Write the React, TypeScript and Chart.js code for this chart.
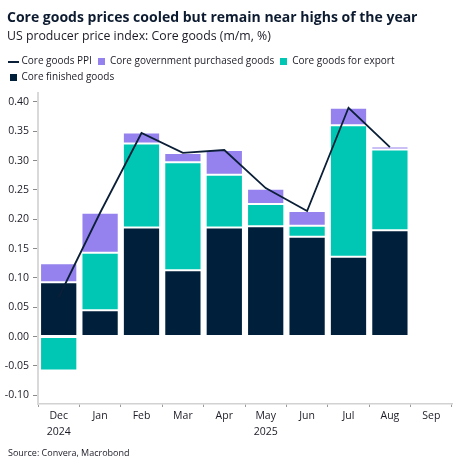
import React, { useEffect, useRef } from "react";
import { Chart, registerables } from "chart.js";

Chart.register(...registerables);

// ---- data ----
const categories: string[][] = [
  ["Dec", "2024"],
  ["Jan"],
  ["Feb"],
  ["Mar"],
  ["Apr"],
  ["May", "2025"],
  ["Jun"],
  ["Jul"],
  ["Aug"],
  ["Sep"],
];
const corePPI = [0.067, 0.211, 0.347, 0.313, 0.318, 0.253, 0.214, 0.39, 0.323, null];
const coreFinished = [0.0925, 0.045, 0.186, 0.113, 0.186, 0.188, 0.17, 0.136, 0.181, null];
const coreExport = [-0.058, 0.098, 0.143, 0.184, 0.09, 0.038, 0.019, 0.224, 0.138, null];
const coreGovernment = [0.0325, 0.068, 0.019, 0.016, 0.042, 0.026, 0.025, 0.03, 0.005, null];
const yTickValues = [-0.1, -0.05, 0, 0.05, 0.1, 0.15, 0.2, 0.25, 0.3, 0.35, 0.4];

const seriesLabels = [
  "Core goods PPI",
  "Core finished goods",
  "Core goods for export",
  "Core government purchased goods",
];
const legendOrder = [0, 3, 2, 1];

const NAVY = "#001F3A";
const TEAL = "#00C7B3";
const PURPLE = "#9582EE";
const LINE = "#0B1F38";
const TEXT = "#1b1b26";
const FONT = "'Open Sans', 'Noto Sans', sans-serif";

function makeSwatch(w: number, h: number, color: string): HTMLCanvasElement {
  const c = document.createElement("canvas");
  c.width = w;
  c.height = h;
  const ctx = c.getContext("2d")!;
  ctx.fillStyle = color;
  ctx.fillRect(0, 0, w, h);
  return c;
}

export default function App() {
  const canvasRef = useRef<HTMLCanvasElement | null>(null);

  useEffect(() => {
    document.body.style.margin = "0";
    const canvas = canvasRef.current;
    if (!canvas) return;

    const swatches = [
      makeSwatch(11, 2, LINE),
      makeSwatch(7, 7, NAVY),
      makeSwatch(7, 7, TEAL),
      makeSwatch(7, 7, PURPLE),
    ];

    const edge = "rgba(255,255,255,0.35)";

    const chart = new Chart(canvas, {
      type: "bar",
      data: {
        labels: categories,
        datasets: [
          {
            type: "line",
            label: seriesLabels[0],
            data: corePPI,
            borderColor: LINE,
            backgroundColor: LINE,
            borderWidth: 1.8,
            pointRadius: 0,
            tension: 0,
            stack: "ppi",
          } as any,
          {
            label: seriesLabels[1],
            data: coreFinished,
            backgroundColor: NAVY,
            borderColor: edge,
            borderWidth: 1,
            borderSkipped: false,
            stack: "parts",
          },
          {
            label: seriesLabels[2],
            data: coreExport,
            backgroundColor: TEAL,
            borderColor: edge,
            borderWidth: 1,
            borderSkipped: false,
            stack: "parts",
          },
          {
            label: seriesLabels[3],
            data: coreGovernment,
            backgroundColor: PURPLE,
            borderColor: edge,
            borderWidth: 1,
            borderSkipped: false,
            stack: "parts",
          },
        ],
      },
      options: {
        animation: false,
        responsive: false,
        maintainAspectRatio: false,
        layout: { padding: { top: 50.5, left: 3.5, right: 14, bottom: 20 } },
        datasets: { bar: { barPercentage: 0.9, categoryPercentage: 1 } },
        plugins: {
          tooltip: { enabled: false },
          title: { display: false },
          legend: {
            display: true,
            position: "top",
            align: "start",
            labels: {
              usePointStyle: true,
              boxWidth: 7,
              padding: 6,
              color: TEXT,
              font: { family: FONT, size: 10 },
              generateLabels: (ch: any) =>
                legendOrder.map((i) => ({
                  text: ch.data.datasets[i].label,
                  fillStyle: ch.data.datasets[i].backgroundColor,
                  strokeStyle: ch.data.datasets[i].backgroundColor,
                  lineWidth: 0,
                  pointStyle: swatches[i],
                  datasetIndex: i,
                  hidden: false,
                  fontColor: TEXT,
                })),
            },
          },
        },
        scales: {
          x: {
            stacked: true,
            offset: true,
            grid: {
              display: true,
              offset: true,
              drawOnChartArea: false,
              drawTicks: true,
              tickLength: 3,
              color: "#9a9a9a",
            },
            border: { display: true, color: "#d2d2d2", width: 1.5 },
            ticks: {
              padding: 1,
              color: TEXT,
              maxRotation: 0,
              autoSkip: false,
              font: { family: FONT, size: 10.5, lineHeight: 1.524 },
            },
            afterFit: (scale: any) => {
              scale.height = 44;
            },
          },
          y: {
            stacked: true,
            min: -0.115,
            max: 0.416,
            grid: {
              display: true,
              drawOnChartArea: false,
              drawTicks: true,
              tickLength: 5,
              color: "#8a8a8a",
            },
            border: { display: true, color: "#d9d9d9", width: 2 },
            ticks: {
              padding: 4,
              color: TEXT,
              font: { family: FONT, size: 10.5 },
              callback: (v: any) => Number(v).toFixed(2),
            },
            afterBuildTicks: (scale: any) => {
              scale.ticks = yTickValues.map((v) => ({ value: v }));
            },
            afterFit: (scale: any) => {
              scale.width = 34.5;
            },
          },
        },
      },
    } as any);

    return () => {
      chart.destroy();
    };
  }, []);

  return (
    <div
      style={{
        position: "fixed",
        left: 0,
        top: 0,
        width: 466,
        height: 468,
        background: "#ffffff",
        overflow: "hidden",
        fontFamily: FONT,
      }}
    >
      <canvas
        ref={canvasRef}
        width={466}
        height={468}
        style={{ position: "absolute", left: 0, top: 0, width: 466, height: 468 }}
      />
      <div
        style={{
          position: "absolute",
          left: 7,
          top: 8,
          fontSize: 14,
          lineHeight: "18px",
          fontWeight: 700,
          color: "#0d1b30",
          whiteSpace: "nowrap",
        }}
      >
        Core goods prices cooled but remain near highs of the year
      </div>
      <div
        style={{
          position: "absolute",
          left: 7,
          top: 28.5,
          fontSize: 12.3,
          lineHeight: "14px",
          color: TEXT,
          whiteSpace: "nowrap",
        }}
      >
        US producer price index: Core goods (m/m, %)
      </div>
      <div
        style={{
          position: "absolute",
          left: 8,
          top: 446.5,
          fontSize: 9,
          lineHeight: "12px",
          color: TEXT,
          whiteSpace: "nowrap",
        }}
      >
        Source: Convera, Macrobond
      </div>
    </div>
  );
}
